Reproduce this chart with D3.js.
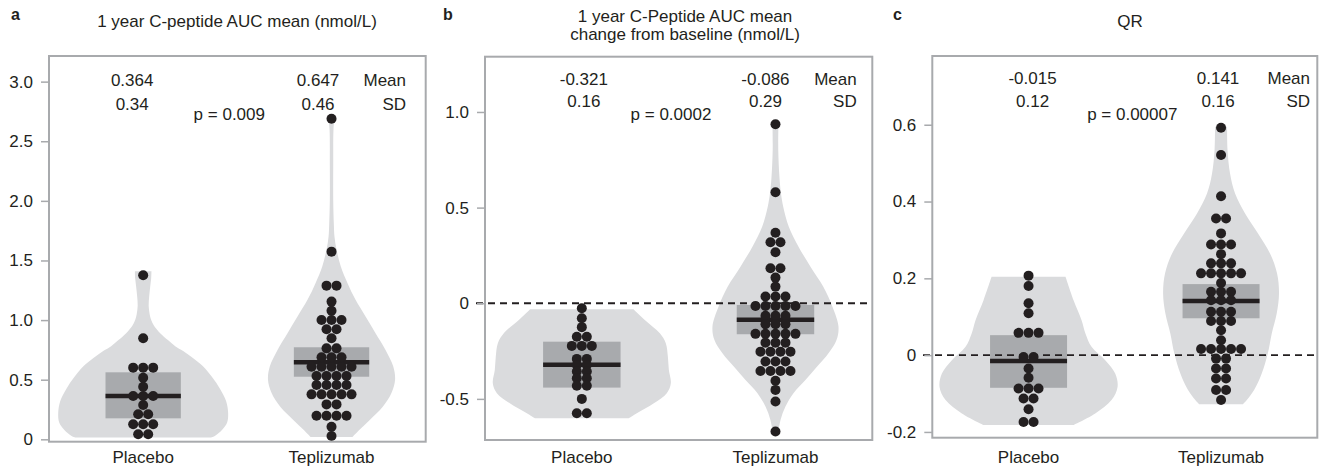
<!DOCTYPE html>
<html><head><meta charset="utf-8">
<script src="https://cdn.jsdelivr.net/npm/d3@7"></script>
<style>
body{margin:0;background:#fff}
svg{display:block}
text{font-family:"Liberation Sans",Arial,Helvetica,sans-serif;fill:#231f20}
</style>
</head><body>
<svg id="chart" width="1327" height="467"></svg>
<script>
// ---------------- DATA ----------------
const categories = ["Placebo", "Teplizumab"];

// Panel a: 1 year C-peptide AUC mean (nmol/L)
const aPlacebo = [0.042,0.042, 0.126,0.126,0.126, 0.21,0.21, 0.288, 0.363,0.363,0.363, 0.441, 0.517, 0.601,0.601,0.601, 0.847, 1.376];
const aTeplizumab = [0.028, 0.106, 0.198,0.198,0.198,0.198, 0.293,0.293, 0.377,0.377,0.377,0.377,0.377,
  0.456,0.456,0.456,0.456, 0.531,0.531,0.531,0.531, 0.609,0.609,0.609,0.609,0.609, 0.688,0.688,0.688,
  0.763,0.763, 0.847, 0.923,0.923, 1.0,1.0,1.0, 1.079, 1.155, 1.289,1.289, 1.574, 2.689];
const aMeans = [0.364, 0.647];
const aMeanLabels = ["0.364", "0.647"];
const aSdLabels = ["0.34", "0.46"];
const aBoxLow = [0.176, 0.525];
const aBoxHigh = [0.562, 0.772];
const aP = "p = 0.009";
const aTicks = [0, 0.5, 1.0, 1.5, 2.0, 2.5, 3.0];
const aTickLabels = ["0", "0.5", "1.0", "1.5", "2.0", "2.5", "3.0"];
// violin outlines: [value, relative density]
const aPlaceboViolin = [[1.41,0.092],[1.35,0.089],[1.28,0.078],[1.2,0.067],[1.12,0.061],[1.05,0.072],[1.0,0.089],[0.95,0.122],[0.89,0.189],[0.83,0.278],[0.78,0.356],[0.74,0.444],[0.68,0.556],[0.61,0.667],[0.52,0.767],[0.42,0.856],[0.32,0.922],[0.22,0.944],[0.14,0.933],[0.08,0.878],[0.03,0.8],[0.016,0.756]];
const aTeplizumabViolin = [[2.69,0.033],[2.6,0.022],[2.3,0.019],[2.0,0.019],[1.8,0.026],[1.7,0.033],[1.59,0.056],[1.45,0.103],[1.31,0.178],[1.17,0.267],[1.03,0.378],[0.89,0.489],[0.75,0.6],[0.61,0.686],[0.5,0.706],[0.39,0.667],[0.27,0.567],[0.16,0.422],[0.08,0.311],[0.02,0.233]];

// Panel b: 1 year C-Peptide AUC mean change from baseline (nmol/L)
const bPlacebo = [-0.026, -0.078, -0.125, -0.175,-0.175, -0.223,-0.223,-0.223, -0.291,-0.291, -0.323,-0.323, -0.357,-0.357, -0.392,-0.392, -0.431,-0.431, -0.5, -0.575,-0.575];
const bTeplizumab = [0.936, 0.58, 0.369, 0.319,0.319, 0.267, 0.183,0.183, 0.134, 0.087, 0.035,0.035,0.035,
  -0.014,-0.014,-0.014,-0.014,-0.014, -0.065,-0.065,-0.065, -0.11,-0.11,-0.11, -0.16,-0.16,-0.16,-0.16,-0.16,
  -0.206,-0.206,-0.206, -0.253,-0.253,-0.253,-0.253, -0.305,-0.305,-0.305, -0.354,-0.354,-0.354,-0.354,
  -0.405, -0.453, -0.514, -0.671];
const bMeans = [-0.321, -0.086];
const bMeanLabels = ["-0.321", "-0.086"];
const bSdLabels = ["0.16", "0.29"];
const bBoxLow = [-0.441, -0.162];
const bBoxHigh = [-0.201, -0.009];
const bP = "p = 0.0002";
const bTicks = [-0.5, 0, 0.5, 1.0];
const bTickLabels = ["-0.5", "0", "0.5", "1.0"];
const bPlaceboViolin = [[-0.031,0.574],[-0.087,0.7],[-0.157,0.867],[-0.209,0.933],[-0.279,0.956],[-0.349,0.967],[-0.418,0.989],[-0.47,0.944],[-0.523,0.8],[-0.575,0.611],[-0.601,0.522]];
const bTeplizumabViolin = [[0.935,0.033],[0.8,0.031],[0.66,0.044],[0.575,0.061],[0.505,0.086],[0.4,0.148],[0.296,0.256],[0.191,0.389],[0.087,0.53],[-0.018,0.633],[-0.122,0.7],[-0.192,0.678],[-0.261,0.589],[-0.331,0.463],[-0.401,0.333],[-0.47,0.2],[-0.54,0.111],[-0.61,0.056],[-0.685,0.028]];

// Panel c: QR
const cPlacebo = [0.207, 0.18, 0.135, 0.109, 0.058,0.058,0.058, -0.005,-0.005, -0.035, -0.059, -0.087,-0.087,-0.087, -0.113,-0.113, -0.141, -0.174,-0.174];
const cTeplizumab = [0.592, 0.521, 0.414, 0.356,0.356, 0.317, 0.288,0.288,0.288, 0.263, 0.239,0.239,0.239,
  0.213,0.213,0.213,0.213,0.213, 0.188, 0.165,0.165,0.165, 0.143,0.143,0.143, 0.113,0.113,0.113, 0.089,0.089,0.089,
  0.065, 0.039, 0.016,0.016,0.016,0.016,0.016, -0.009,-0.009, -0.035,-0.035, -0.061,-0.061, -0.091,-0.091, -0.117];
const cMeans = [-0.015, 0.141];
const cMeanLabels = ["-0.015", "0.141"];
const cSdLabels = ["0.12", "0.16"];
const cBoxLow = [-0.085, 0.096];
const cBoxHigh = [0.052, 0.185];
const cP = "p = 0.00007";
const cTicks = [-0.2, 0, 0.2, 0.4, 0.6];
const cTickLabels = ["-0.2", "0", "0.2", "0.4", "0.6"];
const cPlaceboViolin = [[0.204,0.411],[0.143,0.5],[0.091,0.589],[0.056,0.633],[0.022,0.7],[-0.013,0.852],[-0.048,0.963],[-0.083,0.989],[-0.117,0.922],[-0.152,0.741],[-0.182,0.5]];
const cTeplizumabViolin = [[0.595,0.067],[0.534,0.072],[0.473,0.1],[0.421,0.156],[0.369,0.267],[0.317,0.411],[0.265,0.544],[0.213,0.622],[0.161,0.644],[0.109,0.619],[0.056,0.563],[0.004,0.519],[-0.048,0.452],[-0.091,0.367],[-0.117,0.286],[-0.128,0.244]];

const statNames = ["Mean", "SD"];

// ---------------- LAYOUT / STYLE ----------------
const COL = {violin:"#dadbdd", box:"#a8aaad", frame:"#a8aaad", ink:"#231f20"};
const FONT = 17;
const DOT_R = 5, DOT_STEP = 10;

const panels = [
  {letter:"a", letterPos:[11,20], title:["1 year C-peptide AUC mean (nmol/L)"], titleX:237, titleY:[27],
   frame:[49,425.7,56,441.7], domain:[-0.02,3.215], ticks:aTicks, tickLabels:aTickLabels, zero:false,
   groups:[aPlacebo,aTeplizumab], violins:[aPlaceboViolin,aTeplizumabViolin], means:aMeans,
   meanLabels:aMeanLabels, sdLabels:aSdLabels, boxLow:aBoxLow, boxHigh:aBoxHigh, p:aP,
   statX:[-11,-13.5], statY:[86,110], pPos:[229.3,120], nameRight:406},
  {letter:"b", letterPos:[443,20], title:["1 year C-Peptide AUC mean","change from baseline (nmol/L)"], titleX:685, titleY:[22,40],
   frame:[485,872.3,56.7,440], domain:[-0.715,1.289], ticks:bTicks, tickLabels:bTickLabels, zero:true, zeroStart:476,
   groups:[bPlacebo,bTeplizumab], violins:[bPlaceboViolin,bTeplizumabViolin], means:bMeans,
   meanLabels:bMeanLabels, sdLabels:bSdLabels, boxLow:bBoxLow, boxHigh:bBoxHigh, p:bP,
   statX:[2,-10], statY:[85,107], pPos:[671,119.5], nameRight:856.7},
  {letter:"c", letterPos:[893,20], title:["QR"], titleX:1130, titleY:[27],
   frame:[932.3,1317.3,56,437.7], domain:[-0.215,0.779], ticks:cTicks, tickLabels:cTickLabels, zero:true, zeroStart:923,
   groups:[cPlacebo,cTeplizumab], violins:[cPlaceboViolin,cTeplizumabViolin], means:cMeans,
   meanLabels:cMeanLabels, sdLabels:cSdLabels, boxLow:cBoxLow, boxHigh:cBoxHigh, p:cP,
   statX:[4,-3], statY:[84,107], pPos:[1132.3,119.5], nameRight:1310}
];

const svg = d3.select("#chart");
const wScale = d3.scaleLinear().domain([0,1]).range([0,90]);

panels.forEach(P => {
  const [fx0, fx1, fy0, fy1] = P.frame;
  const g = svg.append("g");
  const x = d3.scaleBand().domain(categories).range([fx0, fx1]).paddingInner(0).paddingOuter(0);
  const y = d3.scaleLinear().domain(P.domain).range([fy1, fy0]);
  const cx = c => x(c) + x.bandwidth()/2;
  const boxHalf = x.bandwidth() * 0.2;

  // panel letter & title
  g.append("text").attr("x", P.letterPos[0]).attr("y", P.letterPos[1])
    .attr("font-size", 16).attr("font-weight", "bold").text(P.letter);
  P.title.forEach((t,i) => g.append("text").attr("x", P.titleX).attr("y", P.titleY[i])
    .attr("text-anchor","middle").attr("font-size", FONT).text(t));

  // violins
  categories.forEach((c,i) => {
    const area = d3.area()
      .curve(d3.curveCatmullRom.alpha(0.5))
      .y(d => y(d[0]))
      .x0(d => cx(c) - wScale(d[1]))
      .x1(d => cx(c) + wScale(d[1]));
    g.append("path").datum(P.violins[i]).attr("d", area).attr("fill", COL.violin);
  });

  // boxes
  categories.forEach((c,i) => {
    g.append("rect").attr("x", cx(c) - boxHalf).attr("width", boxHalf*2)
      .attr("y", y(P.boxHigh[i])).attr("height", y(P.boxLow[i]) - y(P.boxHigh[i]))
      .attr("fill", COL.box);
  });

  // mean lines
  categories.forEach((c,i) => {
    g.append("line").attr("x1", cx(c) - boxHalf).attr("x2", cx(c) + boxHalf)
      .attr("y1", y(P.means[i])).attr("y2", y(P.means[i]))
      .attr("stroke", COL.ink).attr("stroke-width", 4.5);
  });

  // zero line
  if (P.zero) {
    g.append("line").attr("x1", P.zeroStart).attr("x2", fx1).attr("y1", y(0)).attr("y2", y(0))
      .attr("stroke", COL.ink).attr("stroke-width", 1.8).attr("stroke-dasharray", "7,5");
  }

  // dots (centered dot stacks per value row)
  categories.forEach((c,i) => {
    const rows = d3.group(P.groups[i], v => v);
    const pts = [];
    rows.forEach((arr, v) => {
      const n = arr.length;
      arr.forEach((_, k) => pts.push({v, off:(k - (n-1)/2) * DOT_STEP}));
    });
    g.selectAll(null).data(pts).enter().append("circle")
      .attr("cx", d => cx(c) + d.off).attr("cy", d => y(d.v)).attr("r", DOT_R)
      .attr("fill", COL.ink);
  });

  // frame
  g.append("rect").attr("x", fx0).attr("y", fy0).attr("width", fx1 - fx0).attr("height", fy1 - fy0)
    .attr("fill", "none").attr("stroke", COL.frame).attr("stroke-width", 2);

  // y axis
  const ax = g.append("g").attr("transform", `translate(${fx0},0)`)
    .call(d3.axisLeft(y).tickValues(P.ticks).tickFormat((d,i) => P.tickLabels[i]).tickSize(8).tickPadding(8));
  ax.select(".domain").remove();
  ax.selectAll(".tick line").attr("stroke", COL.frame).attr("stroke-width", 1.5);
  ax.selectAll(".tick text").attr("font-size", FONT).attr("font-family", null).attr("fill", COL.ink);

  // category labels
  categories.forEach(c => g.append("text").attr("x", cx(c)).attr("y", 463)
    .attr("text-anchor","middle").attr("font-size", FONT).text(c));

  // stats
  categories.forEach((c,i) => {
    g.append("text").attr("x", cx(c) + P.statX[i]).attr("y", P.statY[0])
      .attr("text-anchor","middle").attr("font-size", FONT).text(P.meanLabels[i]);
    g.append("text").attr("x", cx(c) + P.statX[i]).attr("y", P.statY[1])
      .attr("text-anchor","middle").attr("font-size", FONT).text(P.sdLabels[i]);
  });
  statNames.forEach((s,i) => g.append("text").attr("x", P.nameRight).attr("y", P.statY[i])
    .attr("text-anchor","end").attr("font-size", FONT).text(s));
  g.append("text").attr("x", P.pPos[0]).attr("y", P.pPos[1]).attr("text-anchor","middle")
    .attr("font-size", FONT).text(P.p);
});
</script>
</body></html>
